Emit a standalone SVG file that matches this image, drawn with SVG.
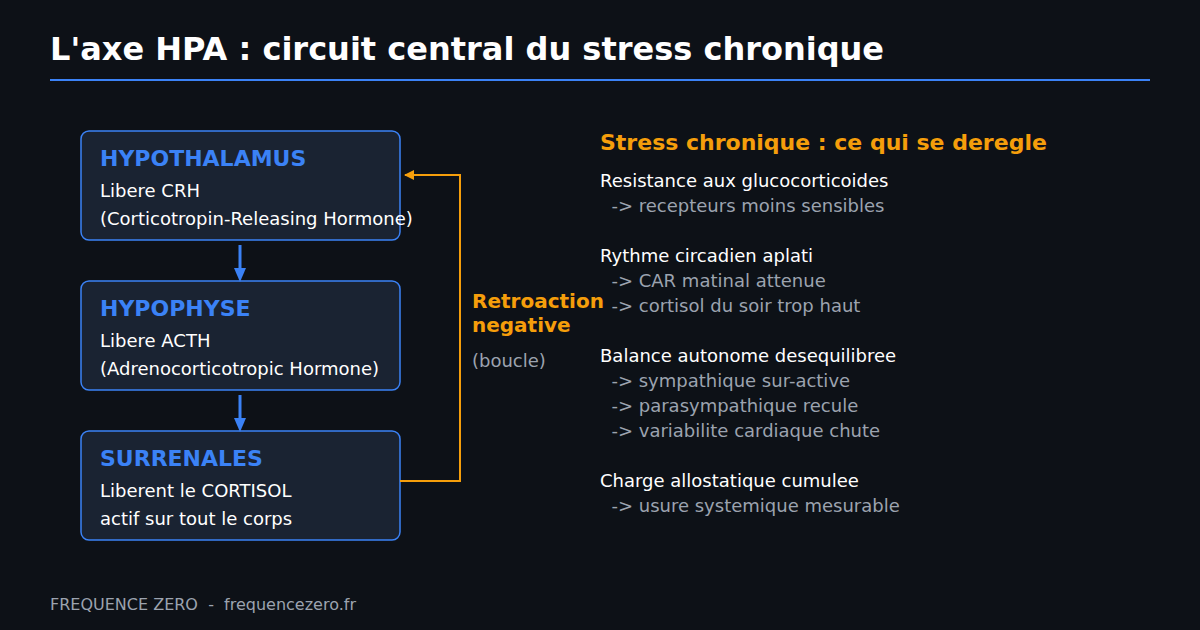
<svg xmlns="http://www.w3.org/2000/svg" width="1200" height="630" viewBox="0 0 1200 630">
<style>
text{font-family:"DejaVu Sans",sans-serif}
.box{fill:#1a2332;stroke:#3b82f6;stroke-width:1.5}
.bt{fill:#3b82f6;font-size:22px;font-weight:bold}
.w{fill:#ffffff;font-size:18px}
.g{fill:#9ca3af;font-size:18px}
.o{fill:#f59e0b;font-weight:bold}
</style>
<defs>
<marker id="ab" markerWidth="14" markerHeight="12" refX="7" refY="6" orient="auto" markerUnits="userSpaceOnUse"><path d="M0,0 L14,6 L0,12 z" fill="#3b82f6"/></marker>
<marker id="ao" markerWidth="10" markerHeight="10" refX="9" refY="5" orient="auto" markerUnits="userSpaceOnUse"><path d="M0,0 L10,5 L0,10 z" fill="#f59e0b"/></marker>
</defs>
<rect width="1200" height="630" fill="#0d1117"/>
<text x="50" y="60" fill="#ffffff" font-size="32" font-weight="bold">L'axe HPA : circuit central du stress chronique</text>
<line x1="50" y1="80" x2="1150" y2="80" stroke="#3b82f6" stroke-width="2"/>
<g id="hypothalamus"><rect class="box" x="81" y="131" width="319" height="109" rx="8"/>
<text class="bt" x="100" y="166">HYPOTHALAMUS</text><text class="w" x="100" y="197">Libere CRH</text><text class="w" x="100" y="225">(Corticotropin-Releasing Hormone)</text></g>
<g id="hypophyse"><rect class="box" x="81" y="281" width="319" height="109" rx="8"/>
<text class="bt" x="100" y="316">HYPOPHYSE</text><text class="w" x="100" y="347">Libere ACTH</text><text class="w" x="100" y="375">(Adrenocorticotropic Hormone)</text></g>
<g id="surrenales"><rect class="box" x="81" y="431" width="319" height="109" rx="8"/>
<text class="bt" x="100" y="466">SURRENALES</text><text class="w" x="100" y="497">Liberent le CORTISOL</text><text class="w" x="100" y="525">actif sur tout le corps</text></g>
<g id="connectors">
<line x1="240" y1="245" x2="240" y2="275" stroke="#3b82f6" stroke-width="3" marker-end="url(#ab)"/>
<line x1="240" y1="395" x2="240" y2="425" stroke="#3b82f6" stroke-width="3" marker-end="url(#ab)"/>
<path d="M400,481 H460 V175 H405" fill="none" stroke="#f59e0b" stroke-width="2" marker-end="url(#ao)"/>
</g>
<text class="o" x="472" y="308" font-size="20">Retroaction</text>
<text class="o" x="472" y="332" font-size="20">negative</text>
<text class="g" x="472" y="367">(boucle)</text>
<text class="o" x="600" y="150" font-size="22">Stress chronique : ce qui se deregle</text>
<text class="w" x="600" y="187">Resistance aux glucocorticoides</text>
<text class="g" x="600" y="212" xml:space="preserve">  -&gt; recepteurs moins sensibles</text>
<text class="w" x="600" y="262">Rythme circadien aplati</text>
<text class="g" x="600" y="287" xml:space="preserve">  -&gt; CAR matinal attenue</text>
<text class="g" x="600" y="312" xml:space="preserve">  -&gt; cortisol du soir trop haut</text>
<text class="w" x="600" y="362">Balance autonome desequilibree</text>
<text class="g" x="600" y="387" xml:space="preserve">  -&gt; sympathique sur-active</text>
<text class="g" x="600" y="412" xml:space="preserve">  -&gt; parasympathique recule</text>
<text class="g" x="600" y="437" xml:space="preserve">  -&gt; variabilite cardiaque chute</text>
<text class="w" x="600" y="487">Charge allostatique cumulee</text>
<text class="g" x="600" y="512" xml:space="preserve">  -&gt; usure systemique mesurable</text>
<text x="50" y="610" fill="#9ca3af" font-size="16" xml:space="preserve">FREQUENCE ZERO  -  frequencezero.fr</text>
</svg>
